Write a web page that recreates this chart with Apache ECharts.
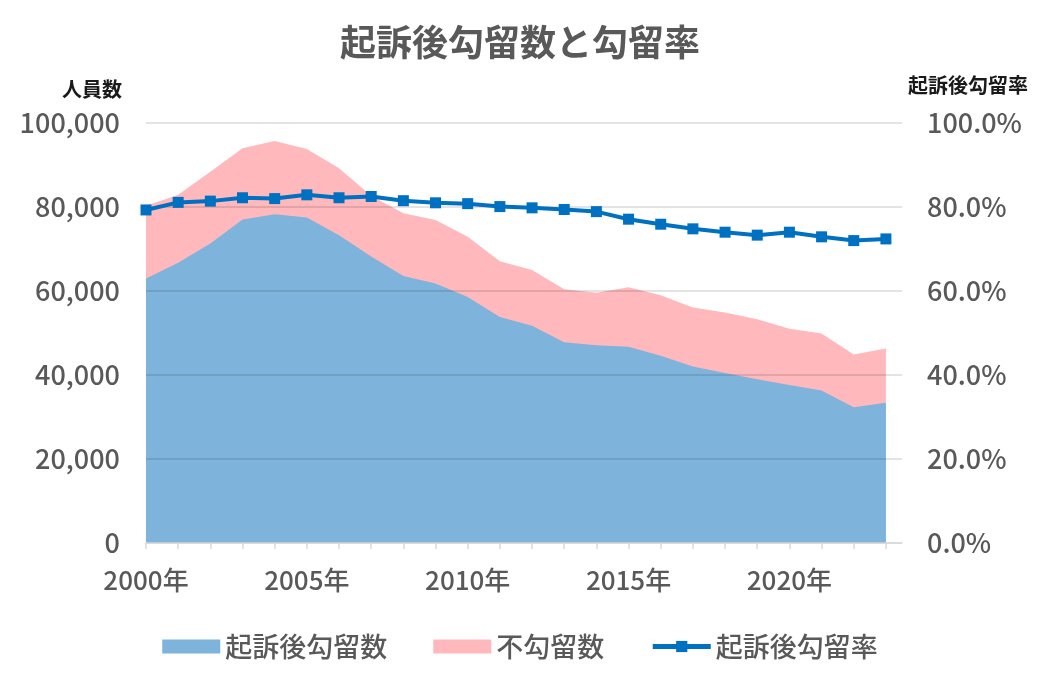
<!DOCTYPE html>
<html>
<head>
<meta charset="utf-8">
<script src="https://cdn.jsdelivr.net/npm/echarts@6/dist/echarts.min.js"></script>
<style>
html,body{margin:0;padding:0;background:#fff;}
#c{width:1040px;height:693px;}
</style>
</head>
<body>
<div id="c"></div>
<script>
const years = [2000,2001,2002,2003,2004,2005,2006,2007,2008,2009,2010,2011,2012,2013,2014,2015,2016,2017,2018,2019,2020,2021,2022,2023];
const labelYears = [2000,2005,2010,2015,2020];
const detained = [63000,66700,71300,77000,78300,77500,73300,68200,63600,61800,58600,53800,51700,47800,47100,46700,44600,42000,40500,39000,37600,36300,32300,33400];
const notDetained = [17300,16200,17100,17000,17400,16300,15900,14500,14900,15100,14300,13300,13300,12600,12500,14200,14400,14100,14400,14300,13400,13600,12600,12900];
const rate = [79.3,81.1,81.4,82.2,82.0,82.9,82.2,82.5,81.5,81.0,80.8,80.1,79.8,79.4,78.9,77.1,75.9,74.8,74.0,73.3,74.0,72.9,72.0,72.4];

const FONT = '"Noto Sans CJK JP", "Noto Sans", sans-serif';
const pair = arr => years.map((y,i)=>[y,arr[i]]);
// stacked top of the pink band = detained + notDetained
const stackedTop = detained.map((v,i)=>v+notDetained[i]);

const chart = echarts.init(document.getElementById('c'), null, {renderer:'canvas'});
chart.setOption({
  backgroundColor:'#ffffff',
  animation:false,
  textStyle:{fontFamily:FONT},
  title:{
    text:'起訴後勾留数と勾留率',
    left:'center', top:19,
    textStyle:{fontFamily:FONT, fontSize:36, fontWeight:'bold', color:'#595959'}
  },
  grid:{left:146, right:138, top:123, bottom:150},
  legend:{
    bottom:28, left:'center',
    itemWidth:58, itemHeight:14, itemGap:46,
    textStyle:{fontFamily:FONT, fontSize:27, fontWeight:500, color:'#595959'},
    data:[
      {name:'起訴後勾留数', icon:'rect', itemStyle:{color:'#7EB4DC'}},
      {name:'不勾留数', icon:'rect', itemStyle:{color:'#FFB9BD'}},
      {name:'起訴後勾留率', lineStyle:{width:5, color:'#0070C0'}, itemStyle:{color:'#0070C0'}}
    ]
  },
  xAxis:{
    type:'value', min:2000, max:2023.5, z:5,
    axisLine:{show:true, lineStyle:{color:'#d9d9d9', width:1.5}},
    axisTick:{show:true, length:6, lineStyle:{color:'#d9d9d9', width:1.5}, customValues:years},
    axisLabel:{customValues:labelYears, formatter:v=>v+'年', fontFamily:FONT, fontSize:26, fontWeight:500, color:'#595959', margin:24},
    splitLine:{show:false}
  },
  yAxis:[
    {
      type:'value', min:0, max:100000, interval:20000, z:5,
      name:'人員数', nameLocation:'end', nameGap:24,
      nameTextStyle:{fontFamily:FONT, fontSize:20, fontWeight:'bold', color:'#1a1a1a', align:'right', padding:[0,24,0,0]},
      axisLine:{show:false}, axisTick:{show:false},
      axisLabel:{fontFamily:FONT, fontSize:27, fontWeight:500, color:'#595959', margin:26, formatter:v=>v.toLocaleString('en-US')},
      splitLine:{show:true, lineStyle:{color:'rgba(0,0,0,0.15)', width:1.5}}
    },
    {
      type:'value', min:0, max:100, interval:20, position:'right', z:5,
      name:'起訴後勾留率', nameLocation:'end', nameGap:28,
      nameTextStyle:{fontFamily:FONT, fontSize:20, fontWeight:'bold', color:'#1a1a1a', align:'left', padding:[0,0,0,6]},
      axisLine:{show:false}, axisTick:{show:false},
      axisLabel:{fontFamily:FONT, fontSize:27, fontWeight:500, color:'#595959', margin:25, formatter:v=>v.toFixed(1)+'%'},
      splitLine:{show:false}
    }
  ],
  series:[
    {
      name:'不勾留数', type:'line', data:pair(stackedTop),
      showSymbol:false, symbol:'none', color:'#FFB9BD',
      lineStyle:{width:0}, areaStyle:{color:'#FFB9BD', opacity:1}, z:1
    },
    {
      name:'起訴後勾留数', type:'line', data:pair(detained),
      showSymbol:false, symbol:'none', color:'#7EB4DC',
      lineStyle:{width:0}, areaStyle:{color:'#7EB4DC', opacity:1}, z:2
    },
    {
      name:'起訴後勾留率', type:'line', yAxisIndex:1, data:pair(rate),
      symbol:'rect', symbolSize:11, color:'#0070C0',
      lineStyle:{width:4, color:'#0070C0'}, itemStyle:{color:'#0070C0'}, z:10
    }
  ]
});
</script>
</body>
</html>
